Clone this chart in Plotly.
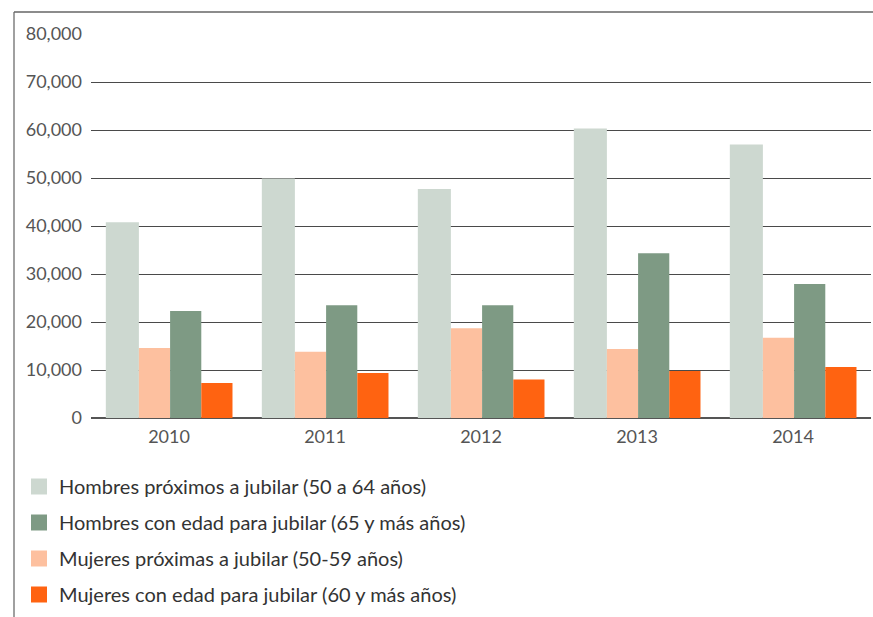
import plotly.graph_objects as go

years = ["2010", "2011", "2012", "2013", "2014"]

hombres_proximos = [40800, 49900, 47700, 60300, 57000]
mujeres_proximas = [14600, 13800, 18700, 14400, 16700]
hombres_edad = [22300, 23500, 23500, 34300, 27900]
mujeres_edad = [7300, 9400, 8000, 9800, 10600]

names = {
    "hp": "Hombres próximos a jubilar (50 a 64 años)",
    "he": "Hombres con edad para jubilar (65 y más años)",
    "mp": "Mujeres próximas a jubilar (50-59 años)",
    "me": "Mujeres con edad para jubilar (60 y más años)",
}
colors = {"hp": "#CDD8D0", "he": "#7E9A84", "mp": "#FDC09F", "me": "#FF6311"}

y_ticks = [0, 10000, 20000, 30000, 40000, 50000, 60000, 70000, 80000]
y_tick_text = ["0", "10,000", "20,000", "30,000", "40,000", "50,000", "60,000", "70,000", "80,000"]

FONT = "Lato"

# bar order within each year group, with widths/offsets in category units
bar_layout = [
    ("hp", hombres_proximos, -0.405, 0.212),
    ("mp", mujeres_proximas, -0.193, 0.200),
    ("he", hombres_edad, 0.007, 0.200),
    ("me", mujeres_edad, 0.207, 0.200),
]

fig = go.Figure()
for key, vals, off, w in bar_layout:
    fig.add_trace(go.Bar(
        x=years, y=vals, name=names[key], marker_color=colors[key],
        marker_line_width=0, offset=off, width=w,
        legendgroup=key, showlegend=False,
    ))

# legend entries with larger square swatches
legend_order = ["hp", "he", "mp", "me"]
for key in legend_order:
    fig.add_trace(go.Scatter(
        x=[None], y=[None], mode="markers", name=names[key],
        marker=dict(symbol="square", size=16, color=colors[key]),
        legendgroup=key, showlegend=True,
    ))

L, R, T, B = 91, 2, 34, 199
W, H = 873, 617
pw, ph = W - L - R, H - T - B


def px_x(p):
    return (p - L) / pw


def px_y(p):
    return (H - B - p) / ph


fig.update_layout(
    width=W, height=H,
    margin=dict(l=L, r=R, t=T, b=B, autoexpand=False),
    paper_bgcolor="white", plot_bgcolor="white",
    barmode="overlay",
    font=dict(family=FONT, size=18, color="#555555"),
    xaxis=dict(
        type="category", showgrid=False, showline=False, zeroline=False,
        ticks="", ticklabelstandoff=6, tickfont=dict(size=18, color="#555555"),
    ),
    yaxis=dict(
        range=[0, 80000], tickvals=y_ticks, ticktext=y_tick_text,
        showgrid=True, gridcolor="#4a4a4a", gridwidth=1.4,
        zeroline=True, zerolinecolor="#555555", zerolinewidth=1.6,
        showline=False, ticks="", ticklabelstandoff=8,
        tickfont=dict(size=18, color="#555555"),
    ),
    legend=dict(
        x=px_x(19), y=px_y(467), xanchor="left", yanchor="top",
        orientation="v", tracegroupgap=7,
        font=dict(size=20, color="#333333", family=FONT),
        bgcolor="rgba(0,0,0,0)",
    ),
    shapes=[
        dict(type="line", xref="paper", yref="paper",
             x0=px_x(14), x1=px_x(14), y0=px_y(12), y1=px_y(617),
             line=dict(color="#808080", width=1.5)),
        dict(type="line", xref="paper", yref="paper",
             x0=px_x(14), x1=px_x(873), y0=px_y(12), y1=px_y(12),
             line=dict(color="#666666", width=1.5)),
    ],
)

fig.write_html("out.html")
